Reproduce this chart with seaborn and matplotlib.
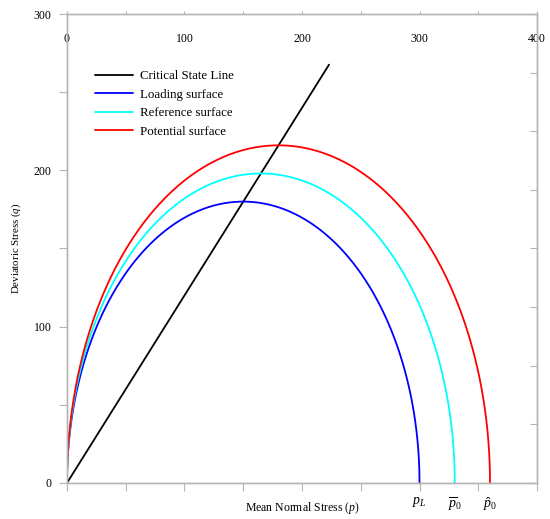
import numpy as np
import pandas as pd
import matplotlib
matplotlib.use("Agg")
import matplotlib.pyplot as plt
import seaborn as sns
from matplotlib.ticker import MultipleLocator

# Modified Cam Clay parameters
M = 1.2
surface_names = ["Loading surface", "Reference surface", "Potential surface"]
surface_p0 = [300, 330, 360]
surface_colors = ["#0000ff", "#00ffff", "#ff0000"]

# critical state line end points
csl_p = [0, 223]
csl_q = [0, 267.6]

p0_labels = [r"$p_L$", r"$\overline{p}_0$", r"$\hat{p}_0$"]
top_ticks = [0, 100, 200, 300, 400]
left_ticks = [0, 100, 200, 300]

GRAY = "#b4b4b4"


def surface_frame():
    rows = []
    t = np.linspace(0, np.pi, 600)
    for name, p0 in zip(surface_names, surface_p0):
        # ellipse q^2 = M^2 p (p0 - p)
        p = p0 / 2 * (1 - np.cos(t))
        q = M * p0 / 2 * np.sin(t)
        rows.append(pd.DataFrame({"p": p, "q": q, "surface": name}))
    return pd.concat(rows, ignore_index=True)


sns.set_style("white")
plt.rcParams["font.family"] = ["Liberation Serif", "DejaVu Serif"]
plt.rcParams["mathtext.fontset"] = "custom"
plt.rcParams["mathtext.rm"] = "Liberation Serif"
plt.rcParams["mathtext.it"] = "Liberation Serif:italic"
plt.rcParams["text.color"] = "black"
plt.rcParams["axes.labelcolor"] = "black"

fig = plt.figure(figsize=(5.5, 5.19), dpi=100)
ax = fig.add_axes([0.1218, 0.0694, 0.8546, 0.9036])

# twins first, twiny() resets the bottom tick settings of ax
top = ax.twiny()
right = ax.twinx()

df = surface_frame()
sns.lineplot(x=csl_p, y=csl_q, color="black", lw=1.3, label="Critical State Line", ax=ax)
for name, color in zip(surface_names, surface_colors):
    sub = df[df["surface"] == name]
    sns.lineplot(data=sub, x="p", y="q", color=color, lw=1.3, sort=False,
                 estimator=None, label=name, ax=ax)

ax.set_xlim(0, 400)
ax.set_ylim(0, 300)

# bottom axis: unlabeled ticks every 50, p0 labels as minor tick labels
ax.xaxis.remove_overlapping_locs = False
ax.xaxis.set_major_locator(MultipleLocator(50))
ax.set_xticks(surface_p0, labels=p0_labels, minor=True)
ax.tick_params(axis="x", which="major", labelbottom=False, direction="out",
               length=5.5, width=0.8, color=GRAY, bottom=True, top=False)
ax.tick_params(axis="x", which="minor", labelbottom=True, bottom=True,
               length=0, pad=9, labelsize=10, labelcolor="black")

ax.set_yticks(left_ticks)
ax.yaxis.set_minor_locator(MultipleLocator(50))
ax.tick_params(axis="y", which="both", direction="out", length=6, width=0.8,
               color=GRAY, left=True, right=False, labelsize=8.5, pad=5,
               labelcolor="black")

ax.set_xlabel(r"Mean Normal Stress ($p$)", fontsize=8.5)
ax.xaxis.set_label_coords(0.5, -0.036)
ax.set_ylabel(r"Deviatoric Stress ($q$)", fontsize=7.8, labelpad=8)

# top axis with numbers drawn inside the frame
top.set_xlim(0, 400)
top.set_xticks(top_ticks)
top.xaxis.set_minor_locator(MultipleLocator(50))
top.tick_params(axis="x", which="both", direction="out", length=2.5, width=0.8,
                color=GRAY, labelsize=8.5, pad=-25, labelcolor="black")

# right axis: plain ticks pointing inwards
right.set_ylim(0, 400)
right.yaxis.set_major_locator(MultipleLocator(50))
right.tick_params(axis="y", direction="in", length=5, width=0.8, color=GRAY,
                  labelright=False)

for a in (ax, top, right):
    for sp in a.spines.values():
        sp.set_color(GRAY)
        sp.set_linewidth(0.9)

ax.legend(loc="upper left", bbox_to_anchor=(0.06, 0.88), frameon=False,
          fontsize=9.3, handlelength=2.9, handletextpad=0.55, labelspacing=0.5,
          borderpad=0, borderaxespad=0, labelcolor="black")

fig.savefig("out.png", dpi=100)
